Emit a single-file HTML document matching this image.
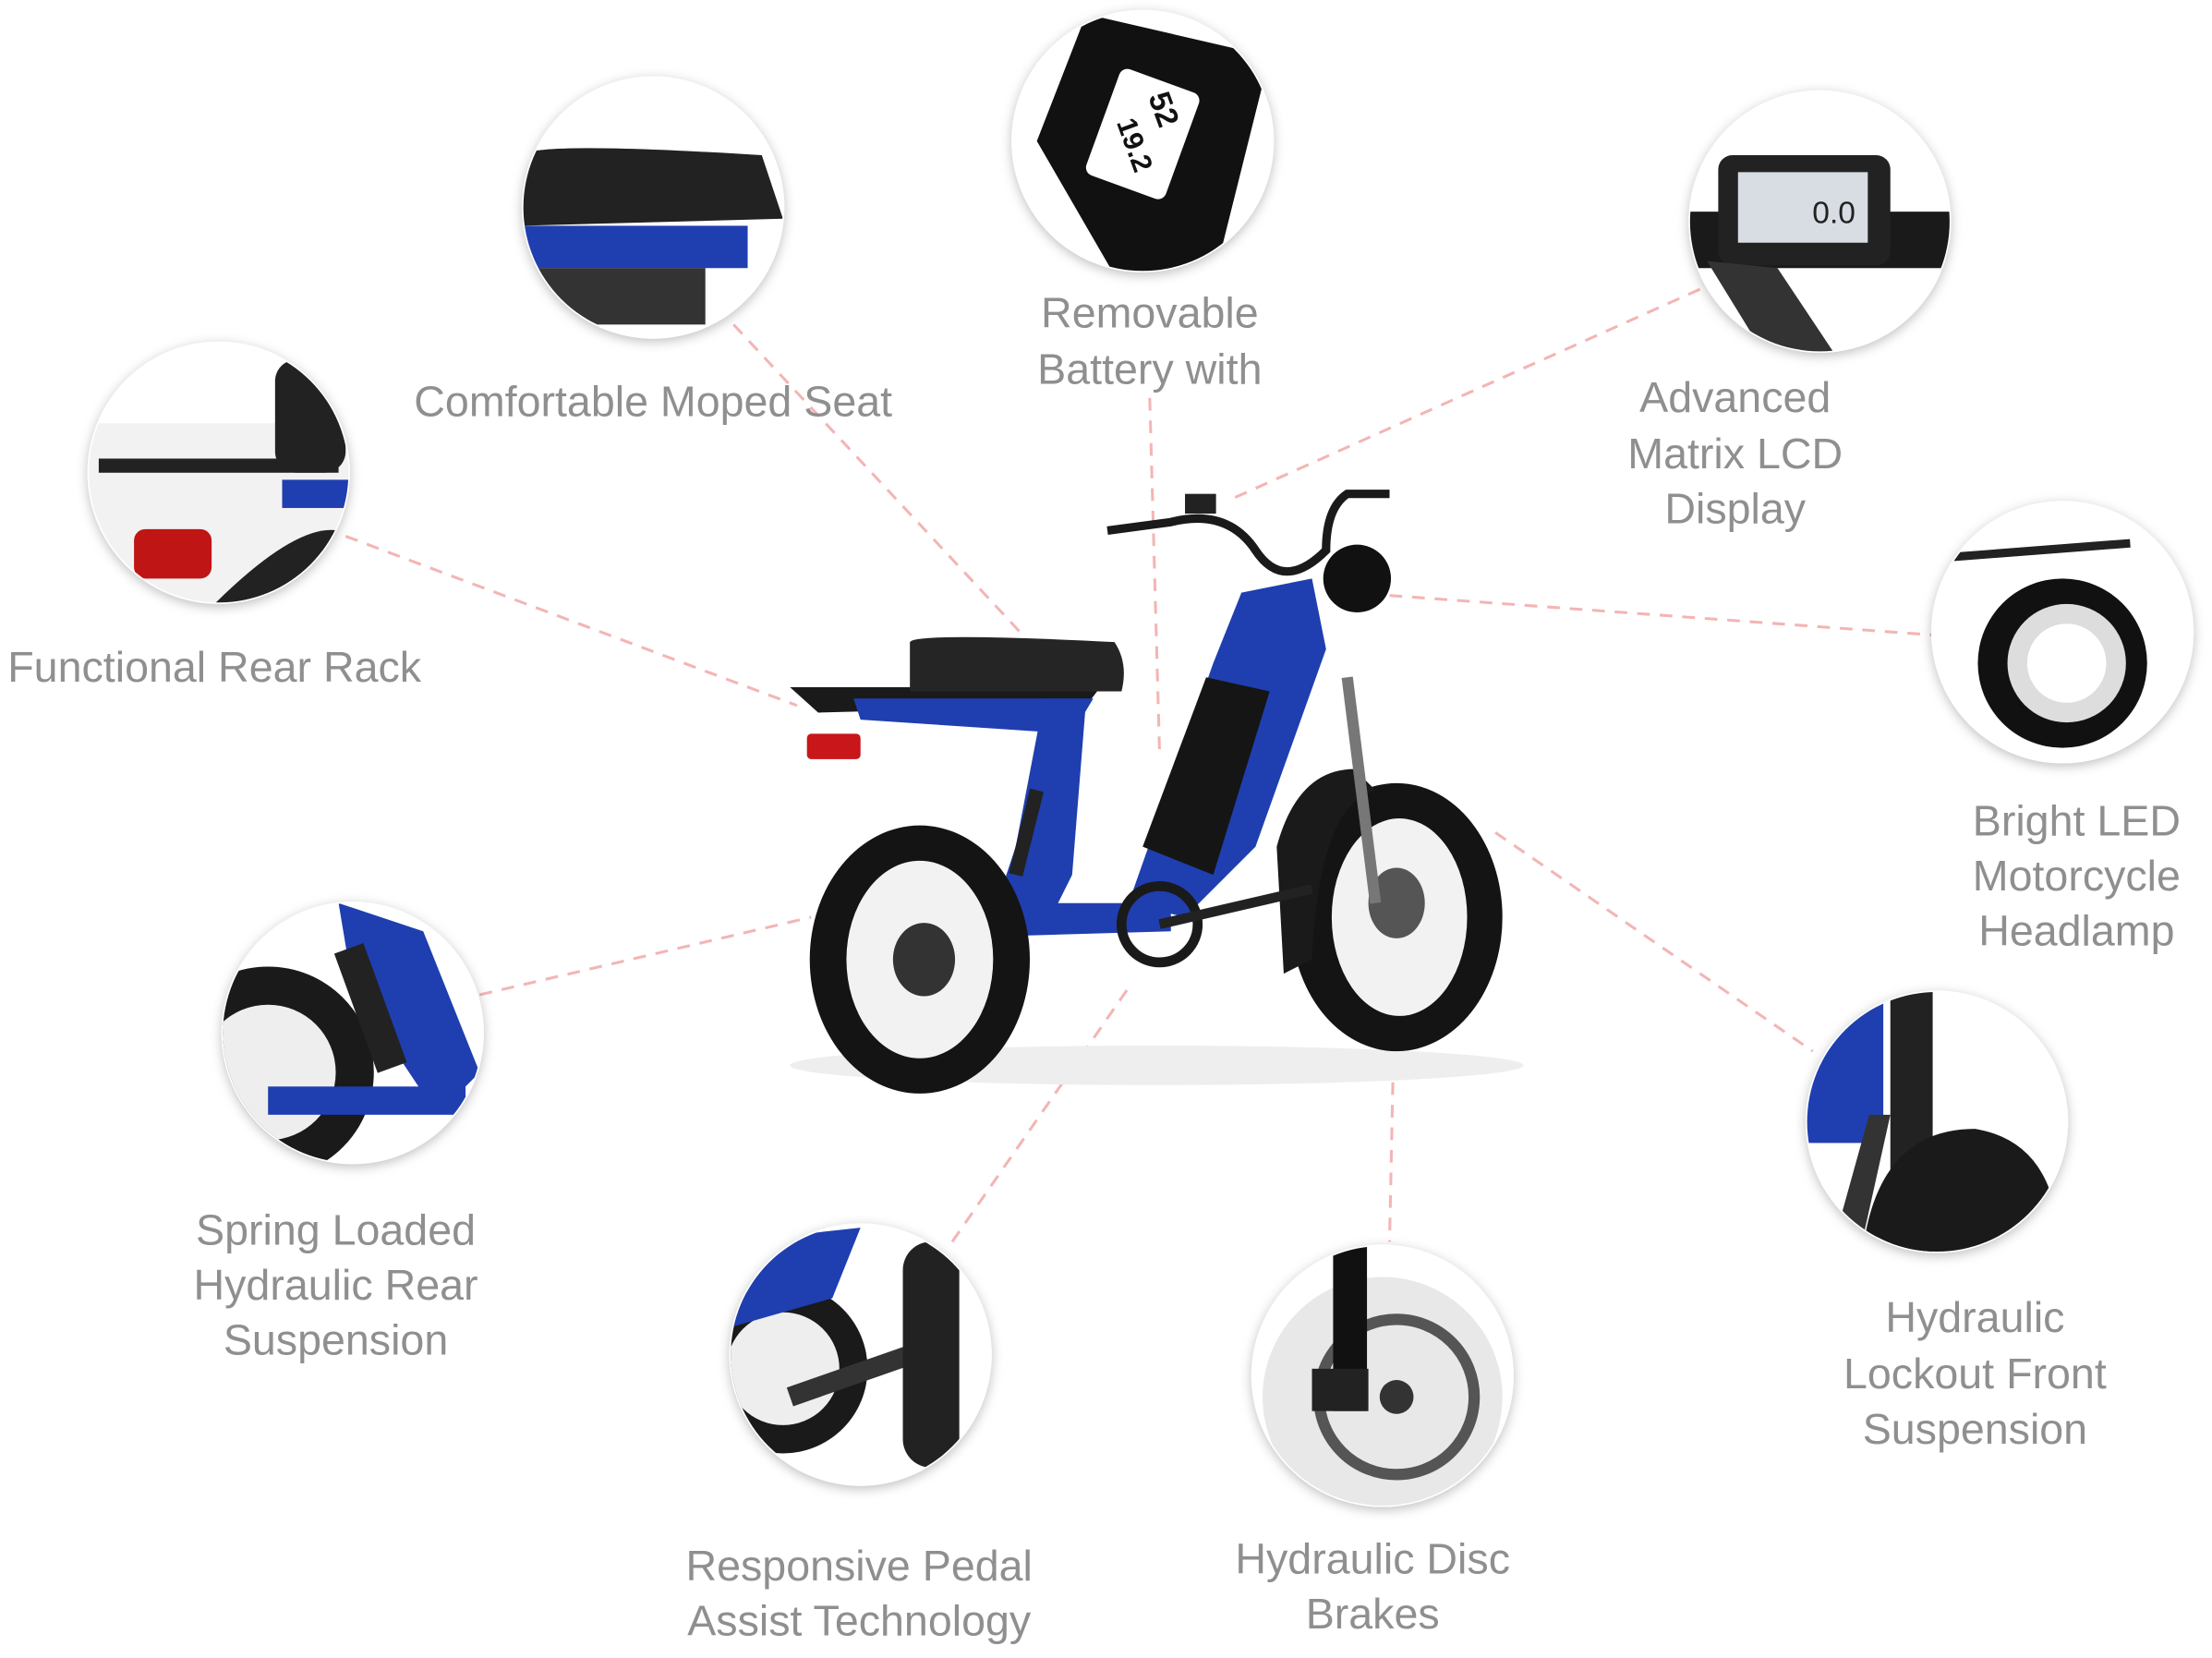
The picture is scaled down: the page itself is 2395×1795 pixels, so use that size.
<!DOCTYPE html>
<html><head><meta charset="utf-8"><style>
html,body{margin:0;padding:0;background:#fff;}
svg{display:block}
text{font-family:"Liberation Sans",sans-serif;fill:#8f8f8f;font-size:30.5px;text-anchor:middle}
</style></head><body>
<svg width="2395" height="1795" viewBox="0 0 1568 1175" preserveAspectRatio="none" xmlns="http://www.w3.org/2000/svg">
<defs>
<filter id="sh" x="-20%" y="-20%" width="140%" height="140%"><feDropShadow dx="0" dy="2" stdDeviation="4" flood-color="#000" flood-opacity="0.25"/></filter>
<clipPath id="c1"><circle cx="463" cy="147" r="92"/></clipPath>
<clipPath id="c2"><circle cx="810" cy="100" r="92"/></clipPath>
<clipPath id="c3"><circle cx="1290" cy="157" r="92"/></clipPath>
<clipPath id="c4"><circle cx="155" cy="335" r="92"/></clipPath>
<clipPath id="c5"><circle cx="1462" cy="448" r="92"/></clipPath>
<clipPath id="c6"><circle cx="250" cy="732" r="92"/></clipPath>
<clipPath id="c7"><circle cx="1373" cy="795" r="92"/></clipPath>
<clipPath id="c8"><circle cx="610" cy="960" r="92"/></clipPath>
<clipPath id="c9"><circle cx="980" cy="975" r="92"/></clipPath>
</defs>
<g stroke="#f3b5b5" stroke-width="2" stroke-dasharray="9,7" fill="none">
<line x1="520" y1="230" x2="725" y2="450"/>
<line x1="815" y1="282" x2="822" y2="535"/>
<line x1="1205" y1="205" x2="870" y2="355"/>
<line x1="245" y1="380" x2="565" y2="500"/>
<line x1="985" y1="422" x2="1370" y2="450"/>
<line x1="340" y1="705" x2="575" y2="650"/>
<line x1="1060" y1="590" x2="1285" y2="745"/>
<line x1="675" y1="880" x2="800" y2="700"/>
<line x1="988" y1="735" x2="985" y2="880"/>
</g>
<g filter="url(#sh)" fill="#fff">
<circle cx="463" cy="147" r="93"/><circle cx="810" cy="100" r="93"/><circle cx="1290" cy="157" r="93"/>
<circle cx="155" cy="335" r="93"/><circle cx="1462" cy="448" r="93"/><circle cx="250" cy="732" r="93"/>
<circle cx="1373" cy="795" r="93"/><circle cx="610" cy="960" r="93"/><circle cx="980" cy="975" r="93"/>
</g>
<g clip-path="url(#c1)"><path d="M370 110 Q380 100 540 110 L555 155 L370 160Z" fill="#222"/><rect x="370" y="160" width="160" height="30" fill="#1f3fb0"/><rect x="380" y="190" width="120" height="40" fill="#333"/></g>
<g clip-path="url(#c2)"><path d="M735 100 L770 10 L900 40 L860 200 L790 195Z" fill="#111"/><rect x="780" y="55" width="60" height="80" rx="6" fill="#fff" transform="rotate(20 810 95)"/>
<text x="818" y="80" style="font-size:22px;fill:#111;font-weight:bold" transform="rotate(70 818 80)">52</text><text x="798" y="105" style="font-size:20px;fill:#111;font-weight:bold" transform="rotate(70 798 105)">19.2</text></g>
<g clip-path="url(#c3)"><rect x="1195" y="150" width="190" height="40" fill="#1a1a1a"/><rect x="1218" y="110" width="122" height="78" rx="10" fill="#222"/><rect x="1232" y="122" width="92" height="50" fill="#d7dde3"/><text x="1300" y="158" style="font-size:22px;fill:#222">0.0</text><path d="M1210 185 L1250 250 L1300 250 L1260 190Z" fill="#333"/></g>
<g clip-path="url(#c4)"><rect x="60" y="300" width="190" height="140" fill="#f2f2f2"/><rect x="70" y="325" width="170" height="10" fill="#222"/><rect x="195" y="255" width="50" height="80" rx="15" fill="#222"/><rect x="95" y="375" width="55" height="35" rx="8" fill="#c01515"/><rect x="200" y="340" width="50" height="20" fill="#1f3fb0"/><path d="M150 430 Q220 360 250 380 L250 440Z" fill="#222"/></g>
<g clip-path="url(#c5)"><circle cx="1462" cy="470" r="60" fill="#111"/><circle cx="1465" cy="470" r="42" fill="#ddd"/><circle cx="1465" cy="470" r="28" fill="#fff"/><path d="M1380 395 L1510 385" stroke="#222" stroke-width="6"/></g>
<g clip-path="url(#c6)"><circle cx="190" cy="760" r="75" fill="#1a1a1a"/><circle cx="190" cy="760" r="48" fill="#eee"/><path d="M240 640 L300 660 L340 760 L310 790 L250 700Z" fill="#1f3fb0"/><rect x="250" y="670" width="22" height="90" fill="#222" transform="rotate(-20 260 710)"/><rect x="190" y="770" width="140" height="20" fill="#1f3fb0"/></g>
<g clip-path="url(#c7)"><rect x="1275" y="700" width="60" height="110" fill="#1f3fb0"/><rect x="1340" y="700" width="30" height="190" fill="#222"/><path d="M1320 890 Q1330 800 1400 800 Q1460 810 1460 890Z" fill="#1a1a1a"/><path d="M1300 880 L1325 790 L1340 790 L1320 880Z" fill="#333"/></g>
<g clip-path="url(#c8)"><circle cx="555" cy="970" r="60" fill="#1a1a1a"/><circle cx="555" cy="970" r="40" fill="#eee"/><path d="M520 880 L610 870 L590 920 L520 940Z" fill="#1f3fb0"/><path d="M560 990 L660 955" stroke="#333" stroke-width="14"/><rect x="640" y="880" width="40" height="160" rx="20" fill="#222"/></g>
<g clip-path="url(#c9)"><circle cx="980" cy="990" r="85" fill="#e8e8e8"/><circle cx="990" cy="990" r="55" fill="none" stroke="#555" stroke-width="8"/><circle cx="990" cy="990" r="12" fill="#333"/><rect x="945" y="880" width="24" height="120" fill="#111"/><rect x="930" y="970" width="40" height="30" fill="#222"/></g>
<ellipse cx="820" cy="755" rx="260" ry="14" fill="#eee"/>
<path d="M560 487 L780 487 L770 500 L580 505Z" fill="#1a1a1a"/>
<rect x="572" y="520" width="38" height="18" rx="3" fill="#c8161a"/>
<path d="M645 455 Q650 448 790 455 Q800 470 795 490 L645 490Z" fill="#252525"/>
<path d="M605 495 L775 495 L760 520 L610 510Z" fill="#1f3fb0"/>
<path d="M740 495 L770 495 L760 620 L740 660 L700 660 L720 600Z" fill="#1f3fb0"/>
<path d="M880 420 L930 410 L940 460 L890 600 L840 650 L800 640 L860 470Z" fill="#1f3fb0"/>
<path d="M855 480 L900 490 L860 620 L810 600Z" fill="#151515"/>
<path d="M660 640 L830 640 L830 660 L660 665Z" fill="#1f3fb0"/>
<path d="M735 560 L720 620" stroke="#222" stroke-width="10"/>
<ellipse cx="652" cy="680" rx="78" ry="95" fill="#141414"/>
<ellipse cx="652" cy="680" rx="52" ry="70" fill="#f2f2f2"/>
<ellipse cx="655" cy="680" rx="22" ry="26" fill="#333"/>
<ellipse cx="990" cy="650" rx="75" ry="95" fill="#141414"/>
<ellipse cx="992" cy="650" rx="48" ry="70" fill="#f2f2f2"/>
<ellipse cx="990" cy="640" rx="20" ry="25" fill="#555"/>
<path d="M905 600 Q920 545 960 545 L975 560 Q935 570 930 680 L910 690Z" fill="#1a1a1a"/>
<path d="M955 480 L975 640" stroke="#777" stroke-width="8"/>
<circle cx="822" cy="655" r="27" fill="none" stroke="#1a1a1a" stroke-width="7"/>
<path d="M822 655 L930 630" stroke="#222" stroke-width="7"/>
<circle cx="962" cy="410" r="24" fill="#111"/>
<path d="M785 376 L830 370 Q870 360 890 390 Q910 420 940 390 Q940 360 955 350 L985 350" stroke="#1a1a1a" stroke-width="6" fill="none"/>
<rect x="840" y="350" width="22" height="14" fill="#222"/>
<text x="463" y="295">Comfortable Moped Seat</text>
<text x="815" y="232">Removable</text><text x="815" y="272">Battery with</text>
<text x="1230" y="292">Advanced</text><text x="1230" y="332">Matrix LCD</text><text x="1230" y="371">Display</text>
<text x="152" y="483">Functional Rear Rack</text>
<text x="1472" y="592">Bright LED</text><text x="1472" y="631">Motorcycle</text><text x="1472" y="670">Headlamp</text>
<text x="238" y="882">Spring Loaded</text><text x="238" y="921">Hydraulic Rear</text><text x="238" y="960">Suspension</text>
<text x="1400" y="944">Hydraulic</text><text x="1400" y="984">Lockout Front</text><text x="1400" y="1023">Suspension</text>
<text x="609" y="1120">Responsive Pedal</text><text x="609" y="1159">Assist Technology</text>
<text x="973" y="1115">Hydraulic Disc</text><text x="973" y="1154">Brakes</text>
</svg>
</body></html>
